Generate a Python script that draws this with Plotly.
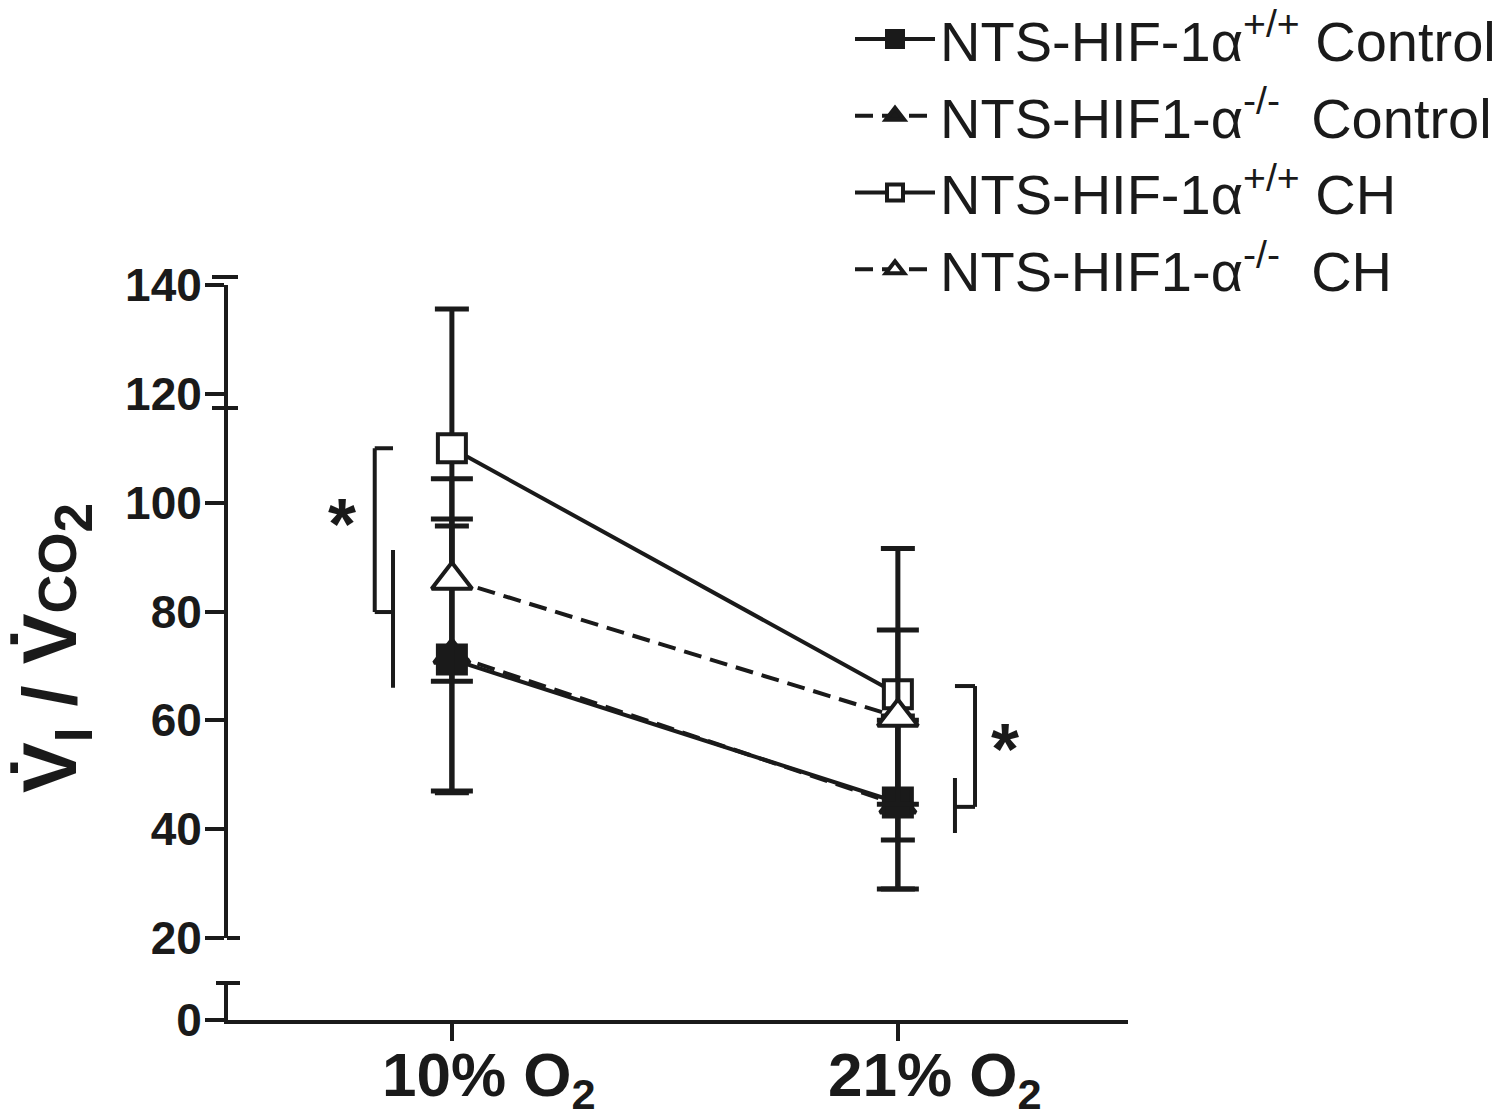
import plotly.graph_objects as go

# ---- data ----
conditions = [1, 2]  # 10% O2, 21% O2 positions
cond_labels = ["10% O<sub>2</sub>", "21% O<sub>2</sub>"]

wt_ctrl = [71.2, 44.9]
wt_ctrl_err = [24.5, 15.9]
ko_ctrl = [72.0, 44.5]
ko_ctrl_err = [25.0, 15.5]
wt_ch = [110.0, 64.8]
wt_ch_err = [25.6, 26.8]
ko_ch = [85.8, 60.6]
ko_ch_err = [18.6, 16.0]

names = {
    "wt_ctrl": "NTS-HIF-1α<sup>+/+</sup> Control",
    "ko_ctrl": "NTS-HIF1-α<sup>-/-</sup>\u00a0 Control",
    "wt_ch": "NTS-HIF-1α<sup>+/+</sup> CH",
    "ko_ch": "NTS-HIF1-α<sup>-/-</sup>\u00a0 CH",
}

yticks_top = [20, 40, 60, 80, 100, 120, 140]

INK = "#1a1a1a"

fig = go.Figure()


def add(yv, err, name, symbol, fill, dash, capw, rank, size):
    fig.add_trace(go.Scatter(
        x=conditions, y=yv, name=name, mode="lines+markers",
        line=dict(color=INK, width=4, dash=dash),
        marker=dict(symbol=symbol, size=size,
                    color=fill, line=dict(color=INK, width=4)),
        error_y=dict(type="data", array=err, visible=True, color=INK,
                     thickness=5, width=capw),
        legendrank=rank, legendgroup=name,
        xaxis="x", yaxis="y",
    ))


# draw order chosen so hollow markers cover the other error bars
add(wt_ch, wt_ch_err, names["wt_ch"], "square", "white", "solid", 17, 3, 28)
add(ko_ctrl, ko_ctrl_err, names["ko_ctrl"], "triangle-up", INK, "18px,9px", 21, 2, 31)
add(wt_ctrl, wt_ctrl_err, names["wt_ctrl"], "square", INK, "solid", 17, 1, 28)
add(ko_ch, ko_ch_err, names["ko_ch"], "triangle-up", "white", "18px,9px", 21, 4, 35)

# empty trace so the lower (broken) axis segment exists
fig.add_trace(go.Scatter(x=[None], y=[None], xaxis="x", yaxis="y2",
                         showlegend=False, hoverinfo="skip", mode="markers"))

W, H = 1511, 1117
# page has an 8px body margin; margins below are in figure coordinates
L, R, T, B = 220, 391, 277, 105
plot_h = H - T - B  # 735
plot_w = W - L - R  # 900


def py(ypage):
    return (1020 - ypage) / plot_h


def px(xpage):
    return (xpage - 228) / plot_w


FAM = "Liberation Sans, Arial, sans-serif"
bold_font = dict(family=FAM, size=46, color=INK, weight="bold")

fig.update_layout(
    width=W, height=H,
    margin=dict(l=L, r=R, t=T, b=B, autoexpand=False),
    paper_bgcolor="white", plot_bgcolor="white",
    showlegend=True,
    legend=dict(
        xref="paper", yref="paper",
        x=px(850), y=py(-4), xanchor="left", yanchor="top",
        font=dict(family=FAM, size=56, color=INK),
        bgcolor="rgba(0,0,0,0)", tracegroupgap=1, itemwidth=80,
    ),
    xaxis=dict(
        range=[0.498, 2.516], anchor="y2", showline=True, linecolor=INK,
        linewidth=4, ticks="outside", ticklen=17, tickwidth=4, tickcolor=INK,
        tickvals=conditions, showticklabels=False, showgrid=False, zeroline=False,
    ),
    yaxis=dict(
        domain=[py(938), 1], range=[20, 140], anchor="x",
        showline=True, linecolor=INK, linewidth=4,
        ticks="outside", ticklen=19, tickwidth=4, tickcolor=INK,
        tickvals=yticks_top, tickfont=bold_font,
        showgrid=False, zeroline=False, ticklabelstandoff=-6,
    ),
    yaxis2=dict(
        domain=[0, py(983)], range=[0, 6.8], anchor="x",
        showline=True, linecolor=INK, linewidth=4,
        ticks="outside", ticklen=19, tickwidth=4, tickcolor=INK,
        tickvals=[0], tickfont=bold_font,
        showgrid=False, zeroline=False, ticklabelstandoff=-6,
    ),
)

shapes = []
# axis-break caps and extra tick marks
for (x0, x1, ypx) in [(216, 240, 983), (227, 240, 938), (212, 238, 277), (212, 238, 408)]:
    shapes.append(dict(type="line", xref="paper", yref="paper",
                       x0=px(x0), x1=px(x1), y0=py(ypx), y1=py(ypx),
                       line=dict(color=INK, width=4)))

# significance brackets (data coordinates)
br = dict(color=INK, width=4)
# left bracket near 10% O2
shapes += [
    dict(type="line", xref="x", yref="y", x0=0.827, x1=0.868, y0=110.0, y1=110.0, line=br),
    dict(type="line", xref="x", yref="y", x0=0.827, x1=0.827, y0=110.0, y1=79.9, line=br),
    dict(type="line", xref="x", yref="y", x0=0.827, x1=0.868, y0=79.9, y1=79.9, line=br),
    dict(type="line", xref="x", yref="y", x0=0.868, x1=0.868, y0=91.3, y1=66.0, line=br),
]
# right bracket near 21% O2
shapes += [
    dict(type="line", xref="x", yref="y", x0=2.128, x1=2.173, y0=66.3, y1=66.3, line=br),
    dict(type="line", xref="x", yref="y", x0=2.173, x1=2.173, y0=66.3, y1=44.1, line=br),
    dict(type="line", xref="x", yref="y", x0=2.173, x1=2.128, y0=44.1, y1=44.1, line=br),
    dict(type="line", xref="x", yref="y", x0=2.128, x1=2.128, y0=49.4, y1=39.3, line=br),
]
fig.update_layout(shapes=shapes)

ann = []
# x category labels
for xv, lab in zip(conditions, cond_labels):
    ann.append(dict(x=xv, xref="x", y=0, yref="paper", yanchor="top",
                    xanchor="center", xshift=37, yshift=-18, showarrow=False,
                    text="<b>" + lab + "</b>",
                    font=dict(family=FAM, size=62, color=INK)))
# asterisks
ann.append(dict(x=0.753, xref="x", y=96, yref="y", text="<b>*</b>", showarrow=False,
                font=dict(family=FAM, size=72, color=INK)))
ann.append(dict(x=2.24, xref="x", y=54.7, yref="y", text="<b>*</b>", showarrow=False,
                font=dict(family=FAM, size=72, color=INK)))
# y axis title
ann.append(dict(
    x=px(55), xref="paper", y=py(648), yref="paper", textangle=-90,
    xanchor="center", yanchor="middle", showarrow=False,
    text="<b>V\u0307<sub>I</sub> / V\u0307<span style='font-size:54px'>CO</span><sub>2</sub></b>",
    font=dict(family=FAM, size=76, color=INK)))
fig.update_layout(annotations=ann)

fig.write_html("out.html")
